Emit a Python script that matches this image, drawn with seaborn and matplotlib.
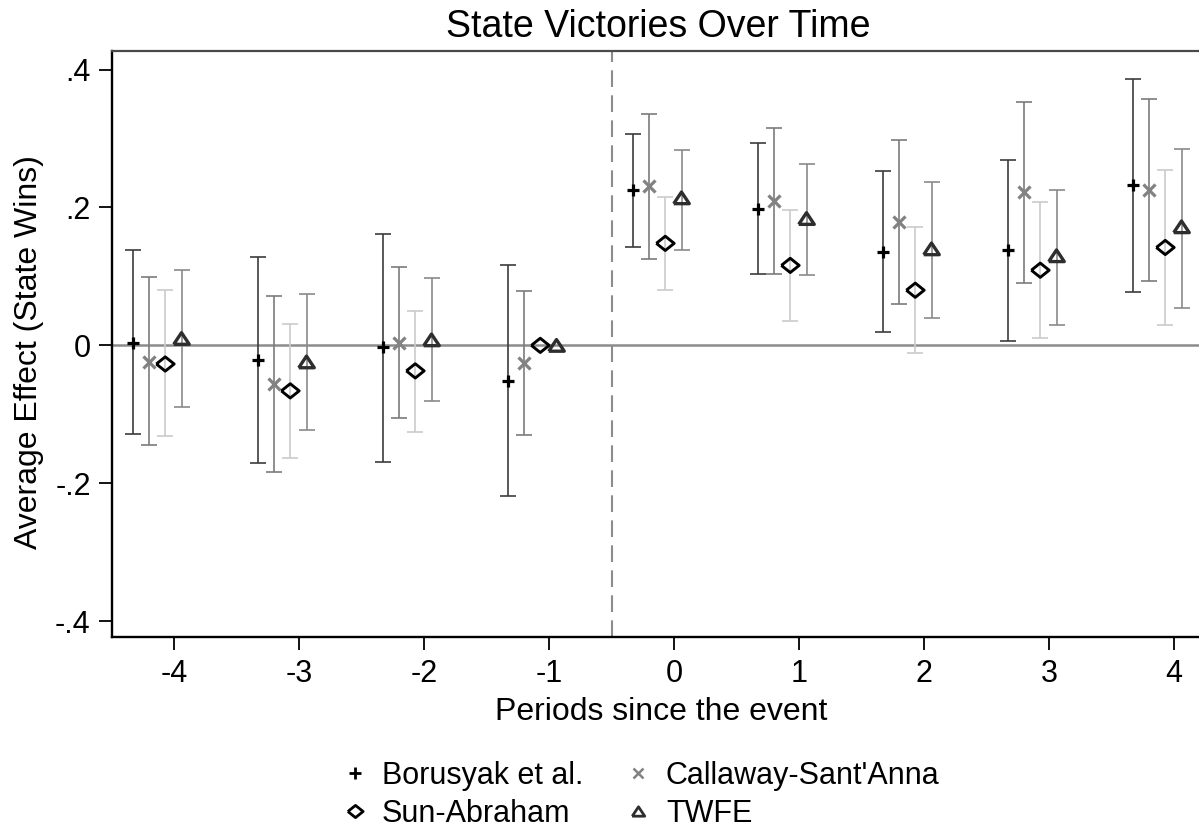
import numpy as np
import pandas as pd
import seaborn as sns
import matplotlib.pyplot as plt
from matplotlib.lines import Line2D

sns.set_theme(style="white")
plt.rcParams['font.family'] = ['Liberation Sans', 'DejaVu Sans']
plt.rcParams['text.color'] = 'black'
plt.rcParams['xtick.color'] = 'black'
plt.rcParams['ytick.color'] = 'black'

# event-time periods
periods = [-4, -3, -2, -1, 0, 1, 2, 3, 4]

# Borusyak et al.
bjs_est = [0.003, -0.021, -0.003, -0.051, 0.225, 0.198, 0.136, 0.138, 0.232]
bjs_lo = [-0.129, -0.171, -0.169, -0.218, 0.142, 0.104, 0.019, 0.007, 0.078]
bjs_hi = [0.138, 0.128, 0.161, 0.116, 0.306, 0.293, 0.253, 0.269, 0.387]

# Callaway-Sant'Anna
cs_est = [-0.024, -0.056, 0.004, -0.025, 0.231, 0.209, 0.179, 0.222, 0.225]
cs_lo = [-0.145, -0.183, -0.105, -0.130, 0.125, 0.104, 0.060, 0.090, 0.093]
cs_hi = [0.099, 0.072, 0.113, 0.079, 0.335, 0.315, 0.298, 0.353, 0.358]

# Sun-Abraham (period -1 is the reference, no CI)
sa_est = [-0.027, -0.066, -0.037, 0.0, 0.148, 0.116, 0.080, 0.109, 0.142]
sa_lo = [-0.132, -0.163, -0.126, np.nan, 0.081, 0.036, -0.011, 0.010, 0.030]
sa_hi = [0.080, 0.031, 0.050, np.nan, 0.215, 0.197, 0.172, 0.208, 0.255]

# TWFE
tw_est = [0.010, -0.024, 0.008, 0.0, 0.214, 0.184, 0.140, 0.130, 0.172]
tw_lo = [-0.090, -0.123, -0.081, np.nan, 0.139, 0.102, 0.039, 0.030, 0.054]
tw_hi = [0.109, 0.074, 0.098, np.nan, 0.283, 0.263, 0.237, 0.226, 0.285]

labels = ["Borusyak et al.", "Callaway-Sant'Anna", "Sun-Abraham", "TWFE"]

diamond = [(-1, 0), (0, 0.8), (1, 0), (0, -0.8), (-1, 0)]
triangle = [(-1, -0.75), (1, -0.75), (0, 0.75), (-1, -0.75)]

series = [
    dict(est=bjs_est, lo=bjs_lo, hi=bjs_hi, off=-0.33, ci='#3c3c3c',
         marker='+', mc='black', s=85, lw=2.3, hollow=False),
    dict(est=cs_est, lo=cs_lo, hi=cs_hi, off=-0.20, ci='#7c7c7c',
         marker='x', mc='#828282', s=75, lw=2.3, hollow=False),
    dict(est=sa_est, lo=sa_lo, hi=sa_hi, off=-0.07, ci='#cbcbcb',
         marker=diamond, mc='black', s=165, lw=2.1, hollow=True),
    dict(est=tw_est, lo=tw_lo, hi=tw_hi, off=0.06, ci='#8a8a8a',
         marker=triangle, mc='#2e2e2e', s=125, lw=2.4, hollow=True),
]

fig = plt.figure(figsize=(11.99, 8.32), dpi=100)
ax = fig.add_axes([111.5 / 1199, 1 - 637 / 832, 1125 / 1199, 586 / 832])

ax.axhline(0, color='#8c8c8c', lw=1.8, zorder=1)
ax.axvline(-0.5, color='#8c8c8c', lw=1.5, ls=(0, (8, 4)), zorder=1)

for sr in series:
    df = pd.DataFrame({'x': np.array(periods) + sr['off'], 'y': sr['est'],
                       'lo': sr['lo'], 'hi': sr['hi']})
    ci = df.dropna()
    ax.errorbar(ci['x'], ci['y'],
                yerr=[ci['y'] - ci['lo'], ci['hi'] - ci['y']],
                fmt='none', ecolor=sr['ci'], elinewidth=1.2,
                capsize=5.5, capthick=1.2, zorder=2)
    if sr['hollow']:
        sns.scatterplot(data=df, x='x', y='y', marker=sr['marker'], s=sr['s'],
                        facecolors='none', edgecolor=sr['mc'],
                        linewidth=sr['lw'], ax=ax, zorder=3, legend=False)
    else:
        sns.scatterplot(data=df, x='x', y='y', marker=sr['marker'], s=sr['s'],
                        color=sr['mc'], linewidth=sr['lw'], ax=ax, zorder=3,
                        legend=False)

ax.set_xlim(-4.5, 4.5)
ax.set_ylim(-0.423, 0.427)
ax.set_xticks(periods)
ax.set_xticklabels([str(p) for p in periods])
ax.set_yticks([-0.4, -0.2, 0, 0.2, 0.4])
ax.set_yticklabels(['-.4', '-.2', '0', '.2', '.4'])
ax.set_xlabel('')
ax.set_ylabel('')
ax.tick_params(axis='both', which='both', direction='out', length=9.5,
               width=1.3, color='black', labelsize=22,
               bottom=True, left=True, top=False, right=False)
ax.tick_params(axis='x', pad=6)
ax.tick_params(axis='y', pad=5.5)
for side in ['left', 'bottom']:
    ax.spines[side].set_color('black')
    ax.spines[side].set_linewidth(1.7)
ax.spines['top'].set_color('#4a4a4a')
ax.spines['top'].set_linewidth(1.6)
ax.spines['right'].set_visible(False)
ax.grid(False)

fig.text(658 / 1199, 1 - 37 / 832, 'State Victories Over Time',
         ha='center', va='baseline', fontsize=27)
fig.text(661 / 1199, 1 - 720 / 832, 'Periods since the event',
         ha='center', va='baseline', fontsize=23)
fig.text(29 / 1199, 1 - 352 / 832, 'Average Effect (State Wins)',
         ha='center', va='center', rotation=90, fontsize=23)

# legend: column 1 = Borusyak / Sun-Abraham, column 2 = Callaway / TWFE
handles = [
    Line2D([], [], ls='none', marker='+', color='black', ms=8, mew=2),
    Line2D([], [], ls='none', marker=diamond, mfc='none', mec='black', ms=11, mew=2),
    Line2D([], [], ls='none', marker='x', color='#828282', ms=7, mew=1.8),
    Line2D([], [], ls='none', marker=triangle, mfc='none', mec='#2e2e2e', ms=9, mew=2),
]
order = [labels[0], labels[2], labels[1], labels[3]]
fig.legend(handles, order, ncol=2, loc='center',
           bbox_to_anchor=(641 / 1199, 1 - 795 / 832), frameon=False,
           fontsize=22, handlelength=0.8, handletextpad=0.5,
           columnspacing=1.4, labelspacing=0.25, borderpad=0)

fig.savefig('out.png', dpi=100)
